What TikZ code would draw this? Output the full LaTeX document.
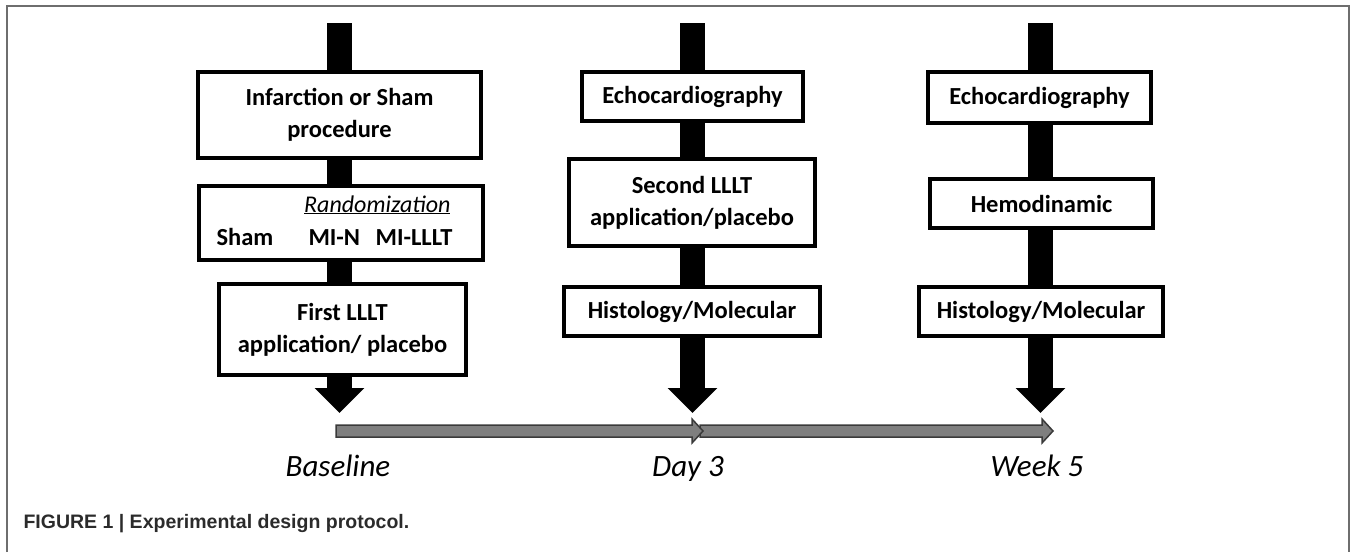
\documentclass[tikz,border=0pt]{standalone}
\usepackage{fontspec}
\setmainfont{Carlito}
\newfontfamily\capfont{Liberation Sans}
\usetikzlibrary{arrows.meta,positioning,calc}
\definecolor{framegray}{HTML}{6E6E6E}
\definecolor{tlfill}{HTML}{7F7F7F}
\definecolor{tldraw}{HTML}{3A3A3A}
\definecolor{captext}{HTML}{2B2B2B}

\tikzset{
  stepbox/.style={draw, fill=white, line width=4pt, align=center, inner sep=0pt,
    font=\bfseries\fontsize{24.5}{32}\selectfont},
  bar/.style={line width=25pt, -{Triangle[length=25pt,width=48pt]}},
  tl/.style={fill=tlfill, draw=tldraw, line width=1.5pt, line join=miter},
  daylabel/.style={anchor=base, font=\itshape\fontsize{31}{37}\selectfont},
  grouplabel/.style={font=\bfseries\fontsize{24.5}{30}\selectfont},
  frame/.style={draw=framegray, line width=2pt}
}

\begin{document}
\begin{tikzpicture}[x=1pt,y=-1pt]
\useasboundingbox (0,0) rectangle (1357,552);
\draw[frame] (7,552) -- (7,6) -- (1349,6) -- (1349,552);

% time points
\coordinate (t0) at (339,431);
\coordinate (t1) at (703,431);
\coordinate (t2) at (1053,431);

% black bars
\coordinate (top0) at (339.5,23);
\coordinate (top1) at (692.5,23);
\coordinate (top2) at (1040.5,23);
\coordinate (tip0) at (339.5,413);
\coordinate (tip1) at (692.5,413);
\coordinate (tip2) at (1040.5,413);
\draw[bar] (top0) -- (tip0);
\draw[bar] (top1) -- (tip1);
\draw[bar] (top2) -- (tip2);

% baseline column
\node[stepbox, minimum width=283, minimum height=86] (infarct) at (339.5,115) {Infarction or Sham\\procedure};
\node[stepbox, minimum width=284, minimum height=74] (random) at (341,223) {};
\node[font=\itshape\fontsize{24}{30}\selectfont, anchor=base east] (randtxt) at (454,212) {\underline{Randomization}};
\node[grouplabel, anchor=base west] (sham) at (213,245) {Sham};
\node[grouplabel, anchor=base west] (min) at (305,245) {MI-N};
\node[grouplabel, anchor=base east] (milllt) at (456,245) {MI-LLLT};
\node[stepbox, minimum width=247, minimum height=91] (first) at (342.5,329.5) {First LLLT\\application/ placebo};

% day 3 column
\node[stepbox, minimum width=221, minimum height=49] (echoA) at (692.5,96.5) {Echocardiography};
\node[stepbox, minimum width=246, minimum height=87] (second) at (692,202.5) {Second LLLT\\application/placebo};
\node[stepbox, minimum width=256, minimum height=49] (histoA) at (692,311.5) {Histology/Molecular};

% week 5 column
\node[stepbox, minimum width=223, minimum height=51] (echoB) at (1039.5,97.5) {Echocardiography};
\node[stepbox, minimum width=223, minimum height=49] (hemo) at (1041.5,203.5) {Hemodinamic};
\node[stepbox, minimum width=244, minimum height=49] (histoB) at (1041,311.5) {Histology/Molecular};

% timeline
\foreach \a/\b in {t1/t2,t0/t1}
  \filldraw[tl] ($(\a)+(-3,-6)$) -- ($(\b)+(-11,-6)$) -- ($(\b)+(-11,-12)$) -- (\b)
    -- ($(\b)+(-11,12)$) -- ($(\b)+(-11,6)$) -- ($(\a)+(-3,6)$) -- cycle;

\node[daylabel] (base) at (338,476) {Baseline};
\node[daylabel] (day3) at (688,476) {Day 3};
\node[daylabel] (week5) at (1037,476) {Week 5};

\node[anchor=west, font=\capfont\bfseries\fontsize{19.5}{23}\selectfont, text=captext] (caption) at (20,524) {FIGURE 1 | Experimental design protocol.};
\end{tikzpicture}
\end{document}
